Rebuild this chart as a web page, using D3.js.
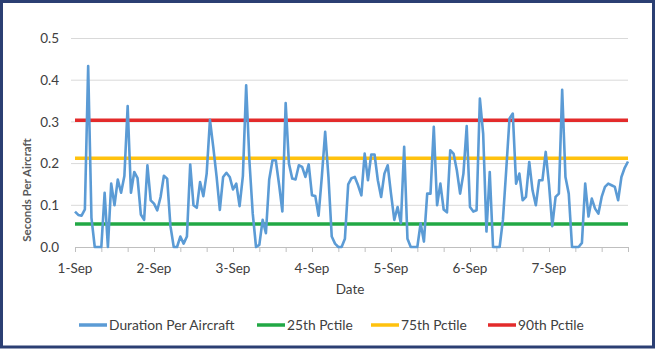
<!DOCTYPE html>
<html><head><meta charset="utf-8">
<script src="https://cdn.jsdelivr.net/npm/d3@7"></script>
<style>
html,body{margin:0;padding:0;background:#fff;}
svg text{font-family:Lato,"Liberation Sans",sans-serif;fill:#404040;}
</style></head>
<body><svg id="c" width="657" height="359"></svg>
<script>
// hourly values, 1-Sep 00:00 .. 8-Sep 00:00
const duration = [
0.085,0.077,0.075,0.09,0.434,0.07,0,0,0,0.13,0,0.152,0.1,0.162,0.13,0.17,0.338,0.13,0.18,0.165,0.078,0.065,0.196,0.112,
0.104,0.088,0.12,0.171,0.164,0.05,0,0,0.025,0.008,0.025,0.198,0.1,0.094,0.156,0.122,0.176,0.305,0.24,0.17,0.089,0.168,0.178,0.168,
0.138,0.152,0.098,0.17,0.388,0.205,0.08,0,0.005,0.065,0.033,0.162,0.208,0.208,0.15,0.085,0.345,0.2,0.164,0.162,0.196,0.192,0.168,0.198,
0.124,0.122,0.075,0.17,0.276,0.168,0.025,0.008,0,0,0.02,0.15,0.165,0.168,0.148,0.124,0.224,0.16,0.222,0.222,0.16,0.12,0.176,0.196,
0.128,0.065,0.096,0.057,0.24,0.02,0,0,0,0.057,0.013,0.128,0.128,0.288,0.1,0.152,0.09,0.083,0.232,0.224,0.184,0.128,0.176,0.29,
0.096,0.085,0.088,0.356,0.272,0.037,0.18,0,0,0,0.065,0.184,0.308,0.32,0.152,0.176,0.112,0.12,0.204,0.136,0.1,0.16,0.16,0.228,
0.15,0.05,0.12,0.128,0.377,0.168,0.128,0,0,0,0.01,0.152,0.073,0.116,0.092,0.08,0.12,0.144,0.152,0.148,0.144,0.112,0.168,0.19,
0.205];
const dayLabels = ["1-Sep","2-Sep","3-Sep","4-Sep","5-Sep","6-Sep","7-Sep"];
const yTicks = [0.0,0.1,0.2,0.3,0.4,0.5];
const p25 = 0.055, p75 = 0.213, p90 = 0.304;
const seriesNames = ["Duration Per Aircraft","25th Pctile","75th Pctile","90th Pctile"];
const seriesColors = ["#5B9BD5","#22A845","#FFC20E","#E32B2B"];

const svg = d3.select("#c");
const L = 75, R = 628, T = 38.5, B = 247;
const start = new Date(2023,8,1,0,0);
const end = d3.timeHour.offset(start, 168);
const x = d3.scaleTime().domain([start,end]).range([L,R]);
const y = d3.scaleLinear().domain([0,0.5]).range([B,T]);

// frame
svg.append("rect").attr("x",1.5).attr("y",1.5).attr("width",652).attr("height",345.5)
  .attr("fill","#fff").attr("stroke","#2B3F73").attr("stroke-width",3);

// gridlines
svg.append("g").selectAll("line").data(yTicks.slice(1)).join("line")
  .attr("x1",L-4).attr("x2",R).attr("y1",d=>y(d)).attr("y2",d=>y(d))
  .attr("stroke","#D9D9D9").attr("stroke-width",1);

// y axis labels
svg.append("g").selectAll("text").data(yTicks).join("text")
  .attr("x",59).attr("y",d=>y(d)).attr("dy","0.35em").attr("text-anchor","end")
  .attr("font-size",13.5).text(d=>d.toFixed(1));

// x axis
const xa = d3.axisBottom(x).ticks(d3.timeHour.every(8)).tickSize(5).tickFormat("");
const gx = svg.append("g").attr("transform",`translate(0,${B})`).call(xa);
gx.select(".domain").attr("stroke","#BFBFBF");
gx.selectAll(".tick line").attr("stroke","#BFBFBF");
const days = dayLabels.map((d,i)=>d3.timeDay.offset(start,i));
svg.append("g").selectAll("text").data(days).join("text")
  .attr("x",d=>x(d)).attr("y",268).attr("dy","0.35em").attr("text-anchor","middle")
  .attr("font-size",13.5).text((d,i)=>dayLabels[i]);

svg.append("text").attr("x",350).attr("y",289).attr("dy","0.35em").attr("text-anchor","middle")
  .attr("font-size",13.5).text("Date");
svg.append("text").attr("transform","translate(27,190) rotate(-90)").attr("dy","0.35em")
  .attr("text-anchor","middle").attr("font-size",11.5).attr("font-weight","bold").style("fill","#595959")
  .text("Seconds Per Aircraft");

// percentile lines
const pct = [p25,p75,p90];
svg.append("g").selectAll("line").data(pct).join("line")
  .attr("x1",L).attr("x2",R).attr("y1",d=>y(d)).attr("y2",d=>y(d))
  .attr("stroke",(d,i)=>seriesColors[i+1]).attr("stroke-width",3.5);

// duration line
const line = d3.line().x((d,i)=>x(d3.timeHour.offset(start,i))).y(d=>y(d));
svg.append("path").datum(duration).attr("d",line).attr("fill","none")
  .attr("stroke",seriesColors[0]).attr("stroke-width",2.6).attr("stroke-linejoin","round");

// legend
const legX = [79,257,371,488];
const lg = svg.append("g").selectAll("g").data(seriesNames).join("g")
  .attr("transform",(d,i)=>`translate(${legX[i]},325)`);
lg.append("line").attr("x1",0).attr("x2",28).attr("y1",0).attr("y2",0)
  .attr("stroke",(d,i)=>seriesColors[i]).attr("stroke-width",3.5);
lg.append("text").attr("x",30).attr("dy","0.35em").attr("font-size",13.8).text(d=>d);
</script></body></html>
